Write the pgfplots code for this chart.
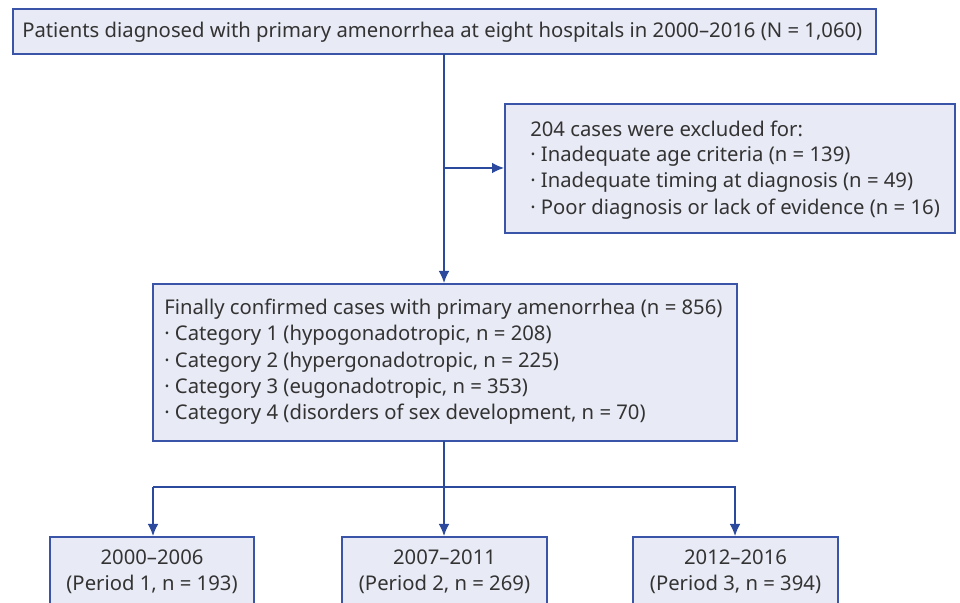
\documentclass[border=0pt]{standalone}
\usepackage{pgfplots}
\pgfplotsset{compat=1.18}
\usepackage{fontspec}
\setmainfont{Noto Sans}
\usetikzlibrary{arrows.meta}
\definecolor{boxfill}{HTML}{E8EAF5}
\definecolor{boxline}{HTML}{3A55A8}
\definecolor{arr}{HTML}{2B4A9E}
\definecolor{txt}{HTML}{333333}
\tikzset{lab/.style={font=\fontsize{15.2}{18}\selectfont, text=txt, inner sep=0pt}}
\begin{document}
\begin{tikzpicture}
\begin{axis}[
  scale only axis, width=720pt, height=452.25pt,
  xmin=0, xmax=960, ymin=0, ymax=603,
  hide axis, clip=true,
]
\addplot[draw=none] coordinates {(0,0)(960,603)};
% boxes
\addplot[fill=boxfill, draw=boxline, line width=1.2pt] coordinates {(13,549)(876,549)(876,594)(13,594)} -- cycle;
\addplot[fill=boxfill, draw=boxline, line width=1.2pt] coordinates {(505,370)(955,370)(955,499)(505,499)} -- cycle;
\addplot[fill=boxfill, draw=boxline, line width=1.2pt] coordinates {(153,162)(737,162)(737,319)(153,319)} -- cycle;
% bottom boxes (cut off by the picture's edge)
\addplot[fill=boxfill, draw=none] coordinates {(50,0)(254,0)(254,66)(50,66)} -- cycle;
\addplot[fill=boxfill, draw=none] coordinates {(342,0)(547,0)(547,66)(342,66)} -- cycle;
\addplot[fill=boxfill, draw=none] coordinates {(633,0)(838,0)(838,66)(633,66)} -- cycle;
\addplot[draw=boxline, line width=1.2pt] coordinates {(50,0)(50,66)(254,66)(254,0)};
\addplot[draw=boxline, line width=1.2pt] coordinates {(342,0)(342,66)(547,66)(547,0)};
\addplot[draw=boxline, line width=1.2pt] coordinates {(633,0)(633,66)(838,66)(838,0)};
% connectors
\addplot[draw=arr, line width=1pt, -{Latex[length=9pt,width=8pt]}] coordinates {(444,549)(444,320)};
\addplot[draw=arr, line width=1pt, -{Latex[length=9pt,width=8pt]}] coordinates {(444,435)(504,435)};
\addplot[draw=arr, line width=1pt] coordinates {(444,162)(444,116)};
\addplot[draw=arr, line width=1pt, -{Latex[length=9pt,width=8pt]}] coordinates {(153,116)(735,116)(735,67)};
\addplot[draw=arr, line width=1pt, -{Latex[length=9pt,width=8pt]}] coordinates {(153,116)(153,67)};
\addplot[draw=arr, line width=1pt, -{Latex[length=9pt,width=8pt]}] coordinates {(444,116)(444,67)};
% texts
\node[lab, anchor=west] at (axis cs:22,571) {Patients diagnosed with primary amenorrhea at eight hospitals in 2000–2016 (N = 1,060)};
\node[lab, anchor=west] at (axis cs:530,474) {204 cases were excluded for:};
\node[lab, anchor=west] at (axis cs:530,447) {· Inadequate age criteria (n = 139)};
\node[lab, anchor=west] at (axis cs:530,421) {· Inadequate timing at diagnosis (n = 49)};
\node[lab, anchor=west] at (axis cs:530,394) {· Poor diagnosis or lack of evidence (n = 16)};
\node[lab, anchor=west] at (axis cs:164,294) {Finally confirmed cases with primary amenorrhea (n = 856)};
\node[lab, anchor=west] at (axis cs:164,268) {· Category 1 (hypogonadotropic, n = 208)};
\node[lab, anchor=west] at (axis cs:164,241) {· Category 2 (hypergonadotropic, n = 225)};
\node[lab, anchor=west] at (axis cs:164,215) {· Category 3 (eugonadotropic, n = 353)};
\node[lab, anchor=west] at (axis cs:164,189) {· Category 4 (disorders of sex development, n = 70)};
\node[lab] at (axis cs:152,46) {2000–2006};
\node[lab] at (axis cs:152,19) {(Period 1, n = 193)};
\node[lab] at (axis cs:444.5,46) {2007–2011};
\node[lab] at (axis cs:444.5,19) {(Period 2, n = 269)};
\node[lab] at (axis cs:735.5,46) {2012–2016};
\node[lab] at (axis cs:735.5,19) {(Period 3, n = 394)};
\end{axis}
\end{tikzpicture}
\end{document}
